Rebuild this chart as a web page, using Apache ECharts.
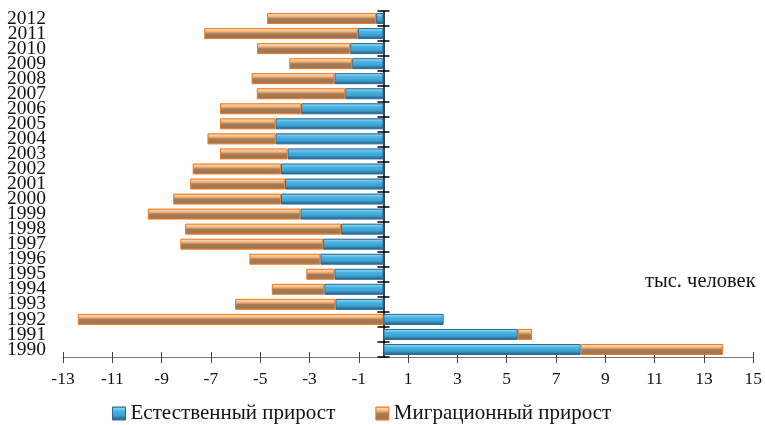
<!DOCTYPE html>
<html>
<head>
<meta charset="utf-8">
<script src="https://cdn.jsdelivr.net/npm/echarts@6/dist/echarts.min.js"></script>
<style>html,body{margin:0;padding:0;background:#fff;}#c{width:765px;height:425px;}</style>
</head>
<body>
<div id="c"></div>
<script>
const years = ['1990','1991','1992','1993','1994','1995','1996','1997','1998','1999','2000','2001','2002','2003','2004','2005','2006','2007','2008','2009','2010','2011','2012'];
const naturalGrowth = [8.0, 5.45, 2.44, -1.95, -2.4, -1.99, -2.56, -2.46, -1.72, -3.37, -4.16, -4.0, -4.16, -3.89, -4.38, -4.38, -3.34, -1.55, -1.99, -1.27, -1.35, -1.04, -0.3];
const migrationGrowth = [5.77, 0.58, -12.4, -4.07, -2.13, -1.14, -2.88, -5.78, -6.33, -6.19, -4.37, -3.84, -3.58, -2.74, -2.76, -2.25, -3.29, -3.59, -3.36, -2.55, -3.78, -6.23, -4.42];
const xTicks = [-13,-11,-9,-7,-5,-3,-1,1,3,5,7,9,11,13,15];
const seriesNames = ['Естественный прирост', 'Миграционный прирост'];
const unitLabel = 'тыс. человек';

const FONT = '"Liberation Serif", "DejaVu Serif", serif';
const grad = (stops) => new echarts.graphic.LinearGradient(0, 0, 0, 1, stops.map((c) => ({offset: c[0], color: c[1]})));
const blueFill = grad([[0,'#2a6896'],[0.12,'#86d3f2'],[0.32,'#4bb4e2'],[0.65,'#3ba2d4'],[0.88,'#2c6c98'],[1,'#3b80b4']]);
const orangeFill = grad([[0,'#f07a18'],[0.12,'#fcd6b0'],[0.32,'#f4b47a'],[0.52,'#a67a56'],[0.85,'#9e7452'],[1,'#f47e1c']]);

const chart = echarts.init(document.getElementById('c'));
const catAxisBase = {type: 'category', data: years, gridIndex: 0};
chart.setOption({
  animation: false,
  grid: {left: 63, right: 11, top: 11, bottom: 68, containLabel: false},
  xAxis: [
    {type: 'value', min: -13, max: 15,
     axisLine: {show: true, onZero: false, lineStyle: {color: '#777', width: 1}},
     axisTick: {show: true, length: 6, inside: false, customValues: xTicks, lineStyle: {color: '#444'}},
     axisLabel: {customValues: xTicks, margin: 13, color: '#111', fontFamily: FONT, fontSize: 17.5},
     splitLine: {show: false}},
    {type: 'value', min: -13, max: 15, position: 'bottom',
     axisLine: {show: false, onZero: false},
     axisTick: {show: true, length: 5, inside: true, customValues: xTicks, lineStyle: {color: '#444'}},
     axisLabel: {show: false, customValues: xTicks},
     splitLine: {show: false}}
  ],
  yAxis: [
    Object.assign({}, catAxisBase, {position: 'left',
      axisLine: {show: false, onZero: false}, axisTick: {show: false},
      axisLabel: {interval: 0, margin: 17, color: '#111', fontFamily: FONT, fontSize: 19.5, lineHeight: 15}}),
    Object.assign({}, catAxisBase, {position: 'left',
      axisLine: {show: true, onZero: true, lineStyle: {color: '#000', width: 1.5}},
      axisTick: {show: true, interval: 0, length: 6, inside: false, lineStyle: {color: '#000', width: 1.5}},
      axisLabel: {show: false}}),
    Object.assign({}, catAxisBase, {position: 'left',
      axisLine: {show: false, onZero: true},
      axisTick: {show: true, interval: 0, length: 6, inside: true, lineStyle: {color: '#000', width: 1.5}},
      axisLabel: {show: false}})
  ],
  legend: {
    left: 107, top: 398, itemWidth: 13, itemHeight: 13, itemGap: 40,
    textStyle: {fontFamily: FONT, fontSize: 21, color: '#111'},
    data: [
      {name: seriesNames[0], icon: 'rect', itemStyle: {color: blueFill, borderColor: '#2a6a95', borderWidth: 1}},
      {name: seriesNames[1], icon: 'rect', itemStyle: {color: orangeFill, borderColor: '#e8761c', borderWidth: 1}}
    ]
  },
  graphic: [{type: 'text', left: 645, top: 271, style: {text: unitLabel, fontFamily: FONT, fontSize: 20.5, fill: '#111'}}],
  series: [
    {name: seriesNames[0], type: 'bar', stack: 'total', xAxisIndex: 0, yAxisIndex: 0, barWidth: 11,
     data: naturalGrowth, itemStyle: {color: blueFill, borderColor: '#2a6a95', borderWidth: 1}},
    {name: seriesNames[1], type: 'bar', stack: 'total', xAxisIndex: 0, yAxisIndex: 0, barWidth: 11,
     data: migrationGrowth, itemStyle: {color: orangeFill, borderColor: '#ec7a1e', borderWidth: 1}}
  ]
});
</script>
</body>
</html>
